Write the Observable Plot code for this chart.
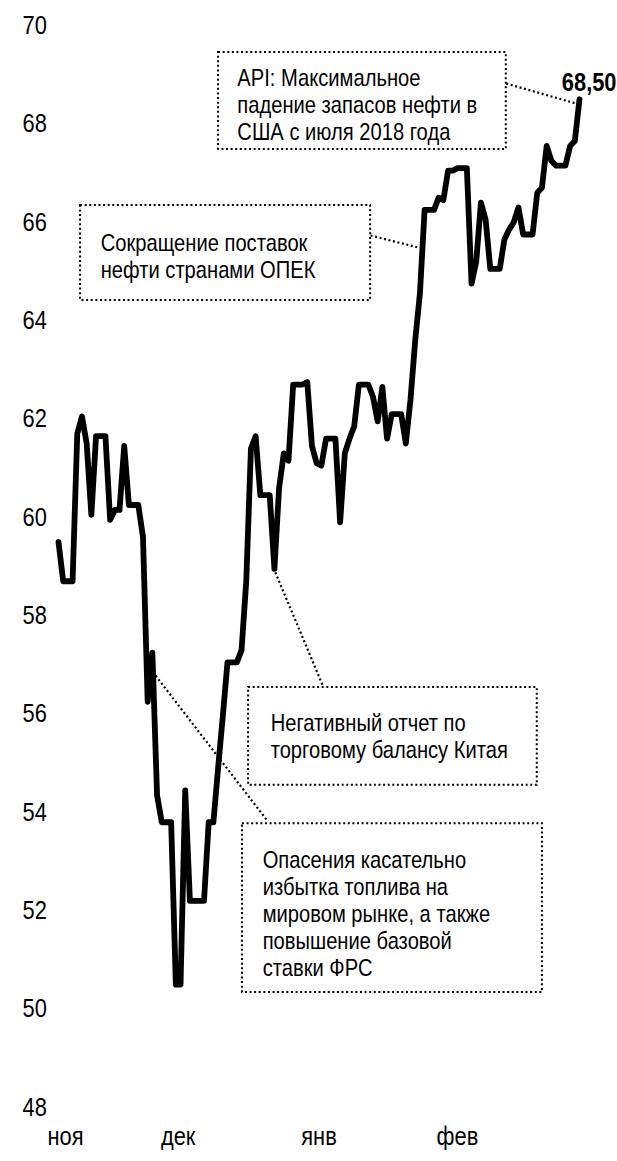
<!DOCTYPE html>
<html><head><meta charset="utf-8">
<script src="https://cdn.jsdelivr.net/npm/d3@7"></script>
<script src="https://cdn.jsdelivr.net/npm/@observablehq/plot@0.6"></script>
<style>
html,body{margin:0;padding:0;background:#fff;}
#chart svg{display:block;}
</style></head><body><div id="chart"></div>
<script>
// Daily series (calendar days, weekends carry Friday's value), 29 Nov 2018 .. 20 Mar 2019
const startDate = "2018-11-29";
const prices = [
  59.50, 58.70,
  58.70, 58.70, 61.70, 62.05, 61.50, 60.05, 61.65, 61.65, 61.65, 59.95,
  60.15, 60.15, 61.45, 60.25, 60.25, 60.25, 59.60, 56.25, 57.25, 54.35,
  53.80, 53.80, 53.80, 50.50, 50.50, 54.45, 52.20, 52.20, 52.20, 52.20, 53.80,
  53.80, 54.90, 55.95, 57.05, 57.05, 57.05, 57.30, 58.70, 61.40, 61.65,
  60.45, 60.45, 60.45, 58.95, 60.60, 61.30, 61.15, 62.70, 62.70, 62.70,
  62.75, 61.45, 61.10, 61.05, 61.60, 61.60, 61.60, 59.90, 61.30, 61.60, 61.85,
  62.70, 62.70, 62.70, 62.45, 61.95, 62.65, 61.60, 62.10, 62.10, 62.10,
  61.50, 62.40, 63.60, 64.55, 66.25, 66.25, 66.25, 66.50, 66.45, 67.05,
  67.05, 67.10, 67.10, 67.10, 64.75, 65.20, 66.40, 66.05,
  65.05, 65.05, 65.05, 65.65, 65.85, 66.00, 66.30, 65.75, 65.75, 65.75,
  66.60, 66.70, 67.55, 67.25, 67.15, 67.15, 67.15, 67.55, 67.65, 68.50
];
const yTicks = [48, 50, 52, 54, 56, 58, 60, 62, 64, 66, 68, 70];
const monthTickDays = [1.5, 25.5, 55.5, 85];
const monthLabels = ["ноя", "дек", "янв", "фев"];
const lastLabel = "68,50";

// Annotation boxes in data units (day offset, price)
const noteText = [
  "API: Максимальное\nпадение запасов нефти в\nСША с июля 2018 года",
  "Сокращение поставок\nнефти странами ОПЕК",
  "Негативный отчет по\nторговому балансу Китая",
  "Опасения касательно\nизбытка топлива на\nмировом рынке, а также\nповышение базовой\nставки ФРС"
];
const noteBoxX1 = [34.1, 4.7, 40.5, 39.2];
const noteBoxX2 = [95.4, 66.5, 102.0, 103.1];
const noteBoxYTop = [69.45, 66.34, 56.54, 53.77];
const noteBoxYBottom = [67.48, 64.41, 54.55, 50.34];
const noteTextX = [38.1, 9.0, 45.2, 43.5];
const noteTextYMid = [68.39, 65.31, 55.55, 51.95];
const leaderFromX = [95.4, 66.5, 46.2, 20.7];
const leaderFromY = [68.82, 65.73, 58.88, 56.78];
const leaderToX = [110.4, 76.5, 56.3, 44.5];
const leaderToY = [68.41, 65.49, 56.58, 53.83];

const data = prices.map((p, i) => ({day: i, price: p}));
const notes = noteText.map((t, i) => ({
  text: t, x1: noteBoxX1[i], x2: noteBoxX2[i], y1: noteBoxYTop[i], y2: noteBoxYBottom[i],
  tx: noteTextX[i], ty: noteTextYMid[i],
  lx1: leaderFromX[i], ly1: leaderFromY[i], lx2: leaderToX[i], ly2: leaderToY[i]
}));
const last = data[data.length - 1];

const FONT = "'Liberation Sans', Arial, sans-serif";
const dots = "2,2.6";

const chart = Plot.plot({
  width: 617,
  height: 1161,
  marginLeft: 58,
  marginRight: 38,
  marginTop: 25,
  marginBottom: 54,
  style: {fontFamily: FONT, background: "#fff", color: "#000"},
  x: {domain: [0, prices.length - 1], axis: null},
  y: {domain: [48, 70], axis: null},
  marks: [
    Plot.text(yTicks, {y: d => d, text: d => String(d), frameAnchor: "left", textAnchor: "start", dx: -36, fontSize: 26, fill: "#000"}),
    Plot.text(monthTickDays, {x: d => d, text: (d, i) => monthLabels[i], frameAnchor: "bottom", dy: 37, fontSize: 26, fill: "#000"}),
    Plot.rect(notes, {x1: "x1", x2: "x2", y1: "y1", y2: "y2", fill: "none", stroke: "#000", strokeWidth: 2, strokeDasharray: dots}),
    Plot.link(notes, {x1: "lx1", y1: "ly1", x2: "lx2", y2: "ly2", stroke: "#000", strokeWidth: 2.2, strokeDasharray: dots}),
    Plot.text(notes, {x: "tx", y: "ty", text: "text", textAnchor: "start", lineAnchor: "middle", lineHeight: 1.125, fontSize: 24, fill: "#000"}),
    Plot.line(data, {x: "day", y: "price", stroke: "#000", strokeWidth: 5.8, strokeLinejoin: "round", strokeLinecap: "round"}),
    Plot.text([last], {x: "day", y: "price", text: () => lastLabel, textAnchor: "end", dx: 37, dy: -17, fontSize: 26, fontWeight: "bold", fill: "#000"})
  ]
});
// condense glyphs horizontally (reference uses a narrow face)
chart.querySelectorAll("text").forEach(t => {
  const tr = t.getAttribute("transform") || "";
  t.setAttribute("transform", (tr + " scale(0.84,1)").trim());
});
document.getElementById("chart").appendChild(chart);
</script></body></html>
